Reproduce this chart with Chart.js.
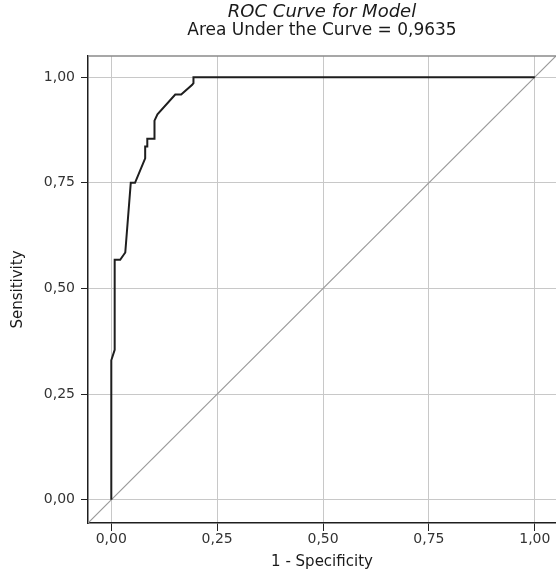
<!DOCTYPE html>
<html>
<head>
<meta charset="utf-8">
<script src="https://cdn.jsdelivr.net/npm/chart.js@4/dist/chart.umd.min.js"></script>
<style>
  html, body { margin: 0; padding: 0; background: #ffffff; }
  #wrap { width: 556px; height: 576px; position: relative; }
</style>
</head>
<body>
<div id="wrap"><canvas id="c"></canvas></div>
<script>
// ROC curve data (1 - Specificity, Sensitivity)
const fpr = [0, 0, 0.008, 0.008, 0.021, 0.033, 0.046, 0.056, 0.080, 0.080, 0.085, 0.085, 0.102, 0.102, 0.109, 0.151, 0.165, 0.191, 0.194, 0.194, 1.0];
const tpr = [0, 0.33, 0.355, 0.568, 0.568, 0.585, 0.75, 0.75, 0.808, 0.836, 0.836, 0.854, 0.854, 0.897, 0.912, 0.959, 0.959, 0.982, 0.986, 1.0, 1.0];
// Reference (chance) diagonal
const diagX = [-0.1, 1.1];
const diagY = [-0.1, 1.1];
// Tick values
const tickValues = [0, 0.25, 0.5, 0.75, 1.0];
const titleText = 'ROC Curve for Model';
const subtitleText = 'Area Under the Curve = 0,9635';
const xTitle = '1 - Specificity';
const yTitle = 'Sensitivity';

const FONT = '"DejaVu Sans", sans-serif';
const fmt = v => v.toFixed(2).replace('.', ',');
const setTicks = scale => { scale.ticks = tickValues.map(v => ({ value: v })); };

const topBorder = {
  id: 'topBorder',
  afterDatasetsDraw(chart) {
    const { ctx, chartArea } = chart;
    ctx.save();
    ctx.strokeStyle = '#8a8a8a';
    ctx.lineWidth = 1.5;
    ctx.beginPath();
    ctx.moveTo(chartArea.left, chartArea.top);
    ctx.lineTo(chartArea.right, chartArea.top);
    ctx.stroke();
    ctx.restore();
  }
};

new Chart(document.getElementById('c'), {
  type: 'scatter',
  data: {
    datasets: [
      {
        label: 'Model',
        data: fpr.map((x, i) => ({ x: x, y: tpr[i] })),
        showLine: true,
        borderColor: '#1e1e1e',
        borderWidth: 2,
        pointRadius: 0,
        tension: 0,
        order: 0
      },
      {
        label: 'Reference',
        data: diagX.map((x, i) => ({ x: x, y: diagY[i] })),
        showLine: true,
        borderColor: '#9a9a9a',
        borderWidth: 1.2,
        pointRadius: 0,
        tension: 0,
        order: 1
      }
    ]
  },
  options: {
    responsive: true,
    maintainAspectRatio: false,
    animation: false,
    layout: { padding: 0 },
    plugins: {
      legend: { display: false },
      tooltip: { enabled: false },
      title: {
        display: true,
        text: titleText,
        fullSize: false,
        color: '#1a1a1a',
        font: { family: FONT, size: 18, style: 'italic', weight: 'normal', lineHeight: 1.0 },
        padding: { top: 3, bottom: 0 }
      },
      subtitle: {
        display: true,
        text: subtitleText,
        fullSize: false,
        color: '#1a1a1a',
        font: { family: FONT, size: 17, weight: 'normal', lineHeight: 1.0 },
        padding: { top: 1.5, bottom: 16.5 }
      }
    },
    scales: {
      x: {
        type: 'linear',
        min: -0.055,
        max: 1.05,
        afterBuildTicks: setTicks,
        afterFit: s => { s.height = 53; },
        grid: { color: '#c8c8c8', lineWidth: 1, tickColor: '#222', tickLength: 8 },
        border: { color: '#1e1e1e', width: 1.5 },
        ticks: {
          callback: v => fmt(v),
          color: '#333',
          padding: 0,
          maxRotation: 0,
          font: { family: FONT, size: 14 }
        },
        title: {
          display: true,
          text: xTitle,
          color: '#1a1a1a',
          font: { family: FONT, size: 15, lineHeight: 1.2 },
          padding: { top: 0, bottom: 4.5 }
        }
      },
      y: {
        type: 'linear',
        min: -0.055,
        max: 1.05,
        afterBuildTicks: setTicks,
        afterFit: s => { s.width = 88; },
        grid: { color: '#c8c8c8', lineWidth: 1, tickColor: '#222', tickLength: 7 },
        border: { color: '#1e1e1e', width: 1.5 },
        ticks: {
          callback: v => fmt(v),
          color: '#333',
          padding: 6,
          font: { family: FONT, size: 14 }
        },
        title: {
          display: true,
          text: yTitle,
          color: '#1a1a1a',
          font: { family: FONT, size: 15, lineHeight: 1.2 },
          padding: { top: 9, bottom: 0 }
        }
      }
    }
  },
  plugins: [topBorder]
});
</script>
</body>
</html>
